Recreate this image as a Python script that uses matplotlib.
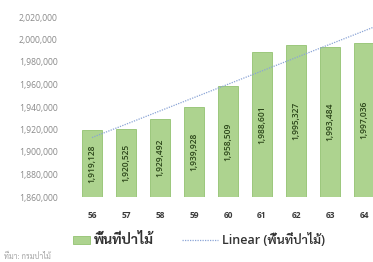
import matplotlib
matplotlib.use("Agg")
import matplotlib.pyplot as plt
from matplotlib import font_manager
from matplotlib.lines import Line2D
from matplotlib.patches import Rectangle
import numpy as np

years = [56, 57, 58, 59, 60, 61, 62, 63, 64]
forest_area = [1919128, 1920525, 1929492, 1939928, 1958509, 1988601, 1995327, 1993484, 1997036]
value_labels = ["1,919,128", "1,920,525", "1,929,492", "1,939,928", "1,958,509",
                "1,988,601", "1,995,327", "1,993,484", "1,997,036"]
y_ticks = [1860000, 1880000, 1900000, 1920000, 1940000, 1960000, 1980000, 2000000, 2020000]
series_name = "พื้นที่ป่าไม้"
trend_name = "Linear (พื้นที่ป่าไม้)"
source_note = "ที่มา: กรมป่าไม้"

fonts = font_manager.fontManager.ttflist
available = {f.name for f in fonts}
bold_ok = {f.name for f in fonts if (f.weight if isinstance(f.weight, int) else 400) >= 600
           or str(f.weight) in ('bold', 'semibold', 'demibold', 'heavy', 'black', 'extra bold')}
cands = ["Noto Sans Thai", "Noto Sans Thai UI", "Sarabun", "Bai Jamjuree", "Prompt", "Kanit"]
thai = next((n for n in cands if n in bold_ok),
            next((n for n in cands if n in available), "DejaVu Sans"))
plt.rcParams['font.family'] = ['Open Sans', thai, 'DejaVu Sans']

W, H = 373, 262
fig = plt.figure(figsize=(W / 100, H / 100), dpi=100)
ax = fig.add_axes([71.6 / W, 1 - 197 / H, 1 - 71.6 / W, (197 - 17) / H])

bar_color = '#add38f'
edge_color = '#93c271'
line_color = '#8aa4d6'
x = np.array(years, dtype=float)
ax.bar(x, np.array(forest_area) - y_ticks[0], bottom=y_ticks[0], width=0.6,
       color=bar_color, edgecolor=edge_color, linewidth=0.6, zorder=2)

for xi, v, lab in zip(x, forest_area, value_labels):
    ax.text(xi, (v + y_ticks[0]) / 2, lab, rotation=90, ha='center', va='center',
            fontsize=6, color='#2a4418', fontweight='semibold', zorder=3)

coef = np.polyfit(x, forest_area, 1)
xt = np.array([x[0], x[-1] + 0.8])
ax.plot(xt, np.polyval(coef, xt), linestyle=(0, (1, 1)), color=line_color, linewidth=0.9, zorder=4)

ax.set_xlim(55.4, 55.4 + (W - 71.6) / 34)
ax.set_ylim(y_ticks[0], y_ticks[-1])
ax.set_yticks(y_ticks)
ax.set_yticklabels([f"{t:,}" for t in y_ticks], fontsize=6.2, color='#8a8a8a')
ax.set_xticks(x)
ax.set_xticklabels([str(y) for y in years], fontsize=6, color='#3a3a3a', fontweight='bold')
ax.tick_params(axis='y', length=0, pad=10)
ax.tick_params(axis='x', length=0, pad=10)
for s in ax.spines.values():
    s.set_visible(False)

# legend drawn in figure pixels
ly = 1 - 240 / H
fig.add_artist(Rectangle((73 / W, ly - 4 / H), 17 / W, 8 / H, transform=fig.transFigure,
                         facecolor=bar_color, edgecolor=edge_color, linewidth=0.6))
fig.text(94 / W, ly, series_name, fontsize=10, fontweight='bold', color='#333333',
         va='center', ha='left', family=[thai, 'DejaVu Sans'])
fig.add_artist(Line2D([182 / W, 218 / W], [ly, ly], transform=fig.transFigure,
                      linestyle=(0, (1, 1)), color=line_color, linewidth=0.9))
fig.text(222 / W, ly, trend_name, fontsize=9, fontweight='semibold', color='#333333',
         va='center', ha='left')

fig.text(0.01, 0.005, source_note, fontsize=5.5, color='#a0a0a0', va='bottom')

fig.savefig("out.png", dpi=100)
